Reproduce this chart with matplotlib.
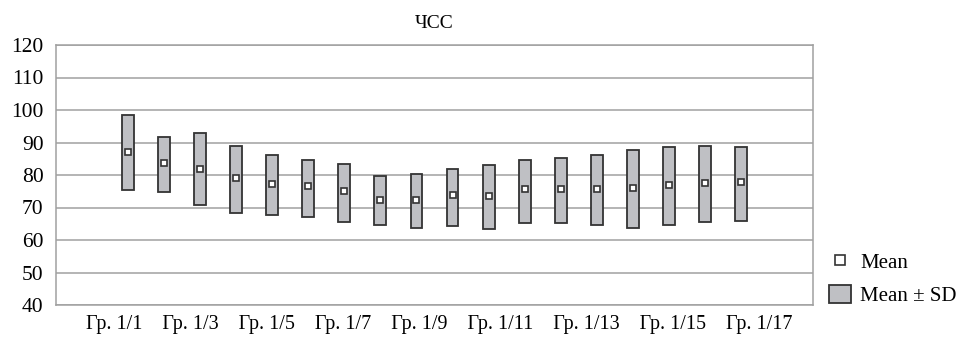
import matplotlib
matplotlib.use("Agg")
import matplotlib.pyplot as plt
from matplotlib.patches import Patch
from matplotlib.lines import Line2D
import numpy as np

# groups Гр. 1/1 ... Гр. 1/18
groups = ["Гр. 1/%d" % i for i in range(1, 19)]
mean_hr = [87.2, 83.6, 82.0, 79.1, 77.3, 76.5, 75.2, 72.4, 72.4,
           73.8, 73.6, 75.8, 75.8, 75.8, 76.0, 77.0, 77.5, 77.7]
upper = [98.5, 91.8, 92.8, 89.0, 86.1, 84.6, 83.3, 79.6, 80.3,
         81.9, 83.2, 84.7, 85.1, 86.2, 87.7, 88.7, 88.9, 88.5]
lower = [75.5, 74.9, 70.9, 68.3, 67.7, 67.0, 65.5, 64.5, 63.7,
         64.2, 63.3, 65.1, 65.1, 64.6, 63.6, 64.5, 65.4, 66.0]
shown_labels = groups[::2]

plt.rcParams['font.family'] = ['Liberation Serif', 'DejaVu Serif']

fig = plt.figure(figsize=(9.62, 3.43), dpi=100)
ax = fig.add_axes([56 / 962, 1 - 305 / 343, (813 - 56) / 962, 260 / 343])

x = np.arange(len(groups))
bar_fill = '#bfc0c4'
edge = '#333333'
ax.bar(x, np.array(upper) - np.array(lower), bottom=lower, width=0.33,
       color=bar_fill, edgecolor=edge, linewidth=1.3, zorder=3)
ax.plot(x, mean_hr, linestyle='none', marker='s', markersize=5,
        markerfacecolor='white', markeredgecolor=edge, markeredgewidth=1.2, zorder=4)

ax.set_xlim(-2, 19)
ax.set_ylim(40, 120)
ax.set_yticks(range(40, 121, 10))
ax.yaxis.grid(True, color='#a0a0a0', linewidth=1.1, zorder=0)
ax.set_xticks([])
ax.tick_params(axis='y', length=0, pad=9, labelsize=15.5)
for s in ax.spines.values():
    s.set_color('#a0a0a0')
    s.set_linewidth(1.1)

ax.set_title('ЧСС', fontsize=14, pad=12)

# category labels typeset as one line below the axis
fig.text(439 / 962, 1 - 325 / 343, '    '.join(shown_labels),
         ha='center', va='center', fontsize=14.5)

handles = [Line2D([], [], linestyle='none', marker='s', markersize=7.5,
                  markerfacecolor='white', markeredgecolor=edge, markeredgewidth=1.2),
           Patch(facecolor=bar_fill, edgecolor=edge, linewidth=1.3)]
fig.legend(handles, ['Mean', 'Mean ± SD'], loc='lower left',
           bbox_to_anchor=(829 / 962, 1 - 306 / 343), frameon=False,
           fontsize=15, borderpad=0, borderaxespad=0, handlelength=1.05,
           handleheight=1.0, handletextpad=0.45, labelspacing=0.55)

fig.savefig('out.png', dpi=100)
